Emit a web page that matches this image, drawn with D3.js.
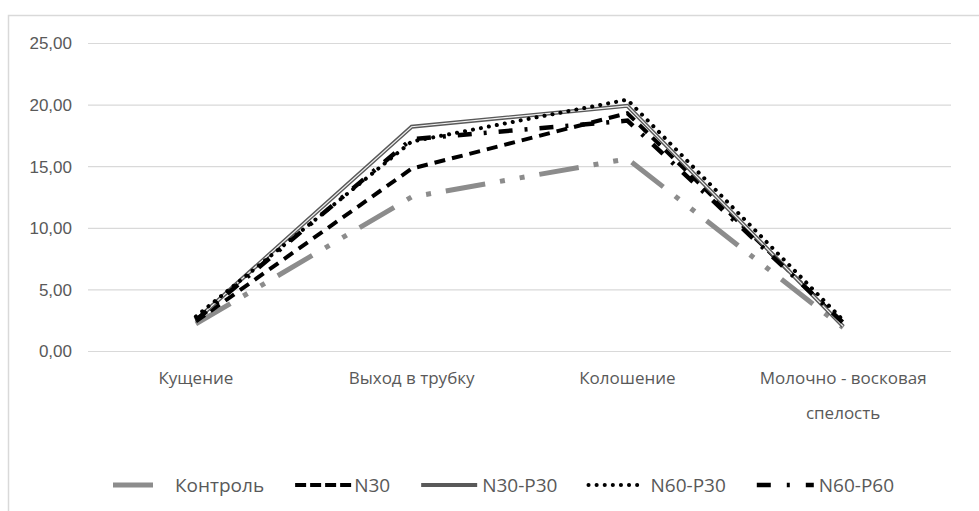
<!DOCTYPE html>
<html>
<head>
<meta charset="utf-8">
<script src="https://cdn.jsdelivr.net/npm/d3@7"></script>
<style>
  body { margin: 0; background: #fff; }
  svg { display: block; font-family: "Open Sans", "DejaVu Sans", sans-serif; }
</style>
</head>
<body>
<div id="chart"><svg width="979" height="511"></svg></div>
<script>
// Data
const categories = ["Кущение", "Выход в трубку", "Колошение", "Молочно - восковая спелость"];
const seriesNames = ["Контроль", "N30", "N30-P30", "N60-P30", "N60-P60"];
const control = [2.2, 12.5, 15.6, 1.9];
const n30 = [2.4, 14.8, 19.3, 2.2];
const n30p30 = [2.5, 18.2, 19.9, 2.0];
const n60p30 = [2.8, 17.0, 20.4, 2.5];
const n60p60 = [2.5, 17.2, 18.7, 2.3];
const yTicks = [0, 5, 10, 15, 20, 25];

const seriesValues = [control, n30, n30p30, n60p30, n60p60];

// line styles per series
const styles = [
  { color: "#8c8c8c", width: 5, dash: "40,15,5,15,5,15", cap: "butt", legendDash: null, legendLen: 40, textGap: 22 },
  { color: "#000000", width: 4, dash: "11,7", cap: "butt", legendDash: "11,4", legendLen: 57, textGap: 2 },
  { color: "#595959", width: 4, dash: null, cap: "butt", legendDash: null, legendLen: 56, textGap: 5, inner: true },
  { color: "#000000", width: 4, dash: "0.1,8", cap: "round", legendDash: "0.1,8", legendLen: 52, textGap: 10 },
  { color: "#000000", width: 4.5, dash: "14,12,3,12", cap: "butt", legendDash: "14,16,3,16", legendLen: 57, textGap: 5 }
];

let svg = d3.select("div#chart svg"),
  plot = { left: 88, right: 951, top: 43, bottom: 351 };

// frame
svg.append("rect")
  .attr("x", 8.5).attr("y", 15.5)
  .attr("width", 990).attr("height", 520)
  .attr("fill", "none")
  .attr("stroke", "#d9d9d9")
  .attr("stroke-width", 1.5);

let x = d3.scalePoint()
  .domain(categories)
  .range([plot.left, plot.right])
  .padding(0.5);
let y = d3.scaleLinear()
  .domain([0, 25])
  .range([plot.bottom, plot.top]);

// gridlines + y labels
let yAxis = svg.append("g")
  .attr("class", "axis axis_y")
  .attr("transform", "translate(" + plot.left + ",0)")
  .call(d3.axisLeft(y).tickValues(yTicks)
    .tickSize(-(plot.right - plot.left))
    .tickPadding(16)
    .tickFormat(d => d3.format(".2f")(d).replace(".", ",")));
yAxis.select(".domain").remove();
yAxis.selectAll(".tick line").attr("stroke", "#d9d9d9").attr("stroke-width", 1.2);
yAxis.selectAll(".tick text")
  .attr("fill", "#595959")
  .style("font-size", "17px")
  .attr("dy", "0.35em");

// category labels (wrapped)
let xLabels = svg.append("g").attr("class", "axis axis_x");
categories.forEach(c => {
  let t = xLabels.append("text")
    .attr("x", x(c))
    .attr("y", 384)
    .attr("fill", "#595959")
    .style("font-size", "17px")
    .style("text-anchor", "middle");
  let words = c.split(" "), line = [];
  let tspan = t.append("tspan").attr("x", x(c)).attr("dy", 0);
  words.forEach(w => {
    line.push(w);
    tspan.text(line.join(" "));
    if (tspan.node().getComputedTextLength() > 180 && line.length > 1) {
      line.pop();
      tspan.text(line.join(" "));
      line = [w];
      tspan = t.append("tspan").attr("x", x(c)).attr("dy", "2.05em").text(w);
    }
  });
});

// lines
let line = d3.line()
  .x((d, i) => x(categories[i]))
  .y(d => y(d));

seriesValues.forEach((vals, i) => {
  let s = styles[i];
  let p = svg.append("path")
    .datum(vals)
    .attr("class", "line")
    .attr("d", line)
    .attr("fill", "none")
    .attr("stroke", s.color)
    .attr("stroke-width", s.width)
    .attr("stroke-linecap", s.cap)
    .attr("stroke-linejoin", "miter");
  if (s.dash) p.attr("stroke-dasharray", s.dash);
  if (s.inner) {
    svg.append("path")
      .datum(vals)
      .attr("d", line)
      .attr("fill", "none")
      .attr("stroke", "#f2f2f2")
      .attr("stroke-width", 1.2);
  }
});

// legend
let legend = svg.append("g").attr("class", "legend");
let lx = 113, ly = 485;
seriesNames.forEach((name, i) => {
  let s = styles[i];
  let l = legend.append("line")
    .attr("x1", lx).attr("x2", lx + s.legendLen)
    .attr("y1", ly).attr("y2", ly)
    .attr("stroke", s.color)
    .attr("stroke-width", s.width)
    .attr("stroke-linecap", s.cap);
  if (s.legendDash) l.attr("stroke-dasharray", s.legendDash);
  let t = legend.append("text")
    .attr("x", lx + s.legendLen + s.textGap)
    .attr("y", ly)
    .attr("dy", "0.35em")
    .attr("fill", "#595959")
    .style("font-size", "19px")
    .text(name);
  lx = lx + s.legendLen + s.textGap + t.node().getComputedTextLength() + 31;
});
</script>
</body>
</html>
